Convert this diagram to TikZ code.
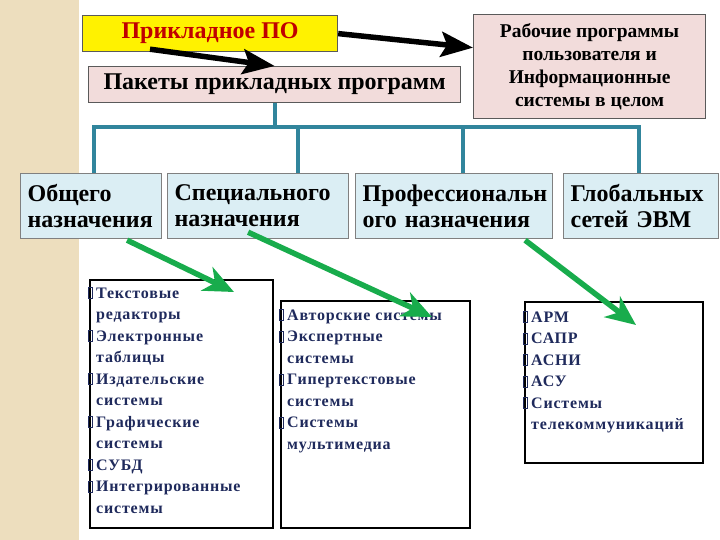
\documentclass[tikz,border=0pt]{standalone}
\usepackage{fontspec}
\setmainfont{Liberation Serif}
\usetikzlibrary{arrows.meta,calc}
\definecolor{strip}{RGB}{237,222,190}
\definecolor{pinkbox}{RGB}{242,220,219}
\definecolor{bluebox}{RGB}{219,238,244}
\definecolor{busline}{RGB}{49,133,156}
\definecolor{listtext}{RGB}{31,42,92}
\definecolor{podred}{RGB}{192,0,0}
\definecolor{arrgreen}{RGB}{24,172,76}
\definecolor{boxline}{RGB}{90,90,90}
% bullet that the slide shows as an empty box
\newcommand\bx{\makebox[8pt][l]{\color{listtext}\setlength\fboxrule{1.1pt}\setlength\fboxsep{0pt}\fbox{\rule{0pt}{10pt}\hspace{3pt}}}}
\newcommand\ind{\hspace*{8pt}}
\begin{document}
\begin{tikzpicture}[x=1pt,y=-1pt,
    box/.style={draw=boxline,line width=1.2pt,inner sep=0pt,anchor=north west},
    cat/.style={box,draw=gray,fill=bluebox,minimum height=65pt,inner xsep=7pt,align=left,font=\fontsize{24}{26}\selectfont\bfseries},
    lstbox/.style={draw=black,line width=2pt,anchor=north west,inner sep=0pt},
    lst/.style={anchor=north west,inner sep=0pt,align=left,text=listtext,font=\fontsize{16}{21.5}\selectfont\bfseries\addfontfeature{LetterSpace=5}},
    bus/.style={busline,line width=4pt},
    blk/.style={line width=5.5pt,-{Stealth[length=32pt,width=25pt,inset=6pt]}},
    grn/.style={arrgreen,line width=5.5pt,-{Stealth[length=30pt,width=26pt,inset=9pt]}}]
    \useasboundingbox (0,0) rectangle (720,540);
    \fill[strip] (0,0) rectangle (79,540);
    % top row
    \node[box,fill=yellow,minimum width=255pt,minimum height=36pt,text=podred,font=\fontsize{24}{27}\selectfont\bfseries] (po) at (82,15) {Прикладное ПО};
    \node[box,fill=pinkbox,minimum width=372pt,minimum height=36pt,font=\fontsize{24}{27}\selectfont\bfseries] (pk) at (88,66) {Пакеты прикладных программ};
    \node[box,fill=pinkbox,minimum width=232pt,minimum height=104pt,align=center,font=\fontsize{19.5}{23}\selectfont\bfseries] (rp) at (473,14) {Рабочие программы\\пользователя и\\Информационные\\системы в целом};
    \draw[blk] (po.east) -- ($(rp.north west)!.32!(rp.south west)$);
    \draw[blk] ([xshift=68pt,yshift=3pt]po.south west) -- (pk.north);
    % categories
    \node[cat,minimum width=141pt,text width=127pt] (o1) at (20,173) {Общего\\назначения};
    \node[cat,minimum width=181pt,text width=167pt] (o2) at (167,173) {Специального\\назначения};
    \node[cat,minimum width=197pt,text width=183pt] (o3) at (355,173) {Профессиональн\\ого назначения};
    \node[cat,minimum width=155pt,text width=141pt] (o4) at (563,173) {Глобальных\\сетей ЭВМ};
    \coordinate (bus) at (0,127);
    \draw[bus] (pk.south) -- (pk.south |- bus);
    \draw[bus,line cap=rect] ([xshift=3pt]o1.north |- bus) -- ([xshift=-2pt]o4.north |- bus);
    \foreach \n/\dx in {o1/3,o2/40,o3/9,o4/-2}
        \draw[bus] ([xshift=\dx pt]\n.north) -- ([xshift=\dx pt]\n.north |- bus);
    % lists
    \node[lstbox,minimum width=183pt,minimum height=248pt] (la) at (89,279) {};
    \node[lstbox,minimum width=189pt,minimum height=227pt] (lb) at (280,300) {};
    \node[lstbox,minimum width=178pt,minimum height=161pt] (lc) at (524,301) {};
    \node[lst] (ta) at (88,287) {\bx Текстовые\\\ind редакторы\\\bx Электронные\\\ind таблицы\\\bx Издательские\\\ind системы\\\bx Графические\\\ind системы\\\bx СУБД\\\bx Интегрированные\\\ind системы};
    \node[lst] (tb) at (279,309) {\bx Авторские системы\\\bx Экспертные\\\ind системы\\\bx Гипертекстовые\\\ind системы\\\bx Системы\\\ind мультимедиа};
    \node[lst] (tc) at (523,311) {\bx АРМ\\\bx САПР\\\bx АСНИ\\\bx АСУ\\\bx Системы\\\ind телекоммуникаций};
    \coordinate (ea) at (234,292);
    \coordinate (eb) at (432,317);
    \coordinate (ec) at (636,325);
    \draw[grn] ([xshift=36pt,yshift=-1pt]o1.south) -- (ea);
    \draw[grn] ([xshift=-10pt,yshift=7pt]o2.south) -- (eb);
    \draw[grn] ([xshift=71pt,yshift=-1pt]o3.south) -- (ec);
\end{tikzpicture}
\end{document}
